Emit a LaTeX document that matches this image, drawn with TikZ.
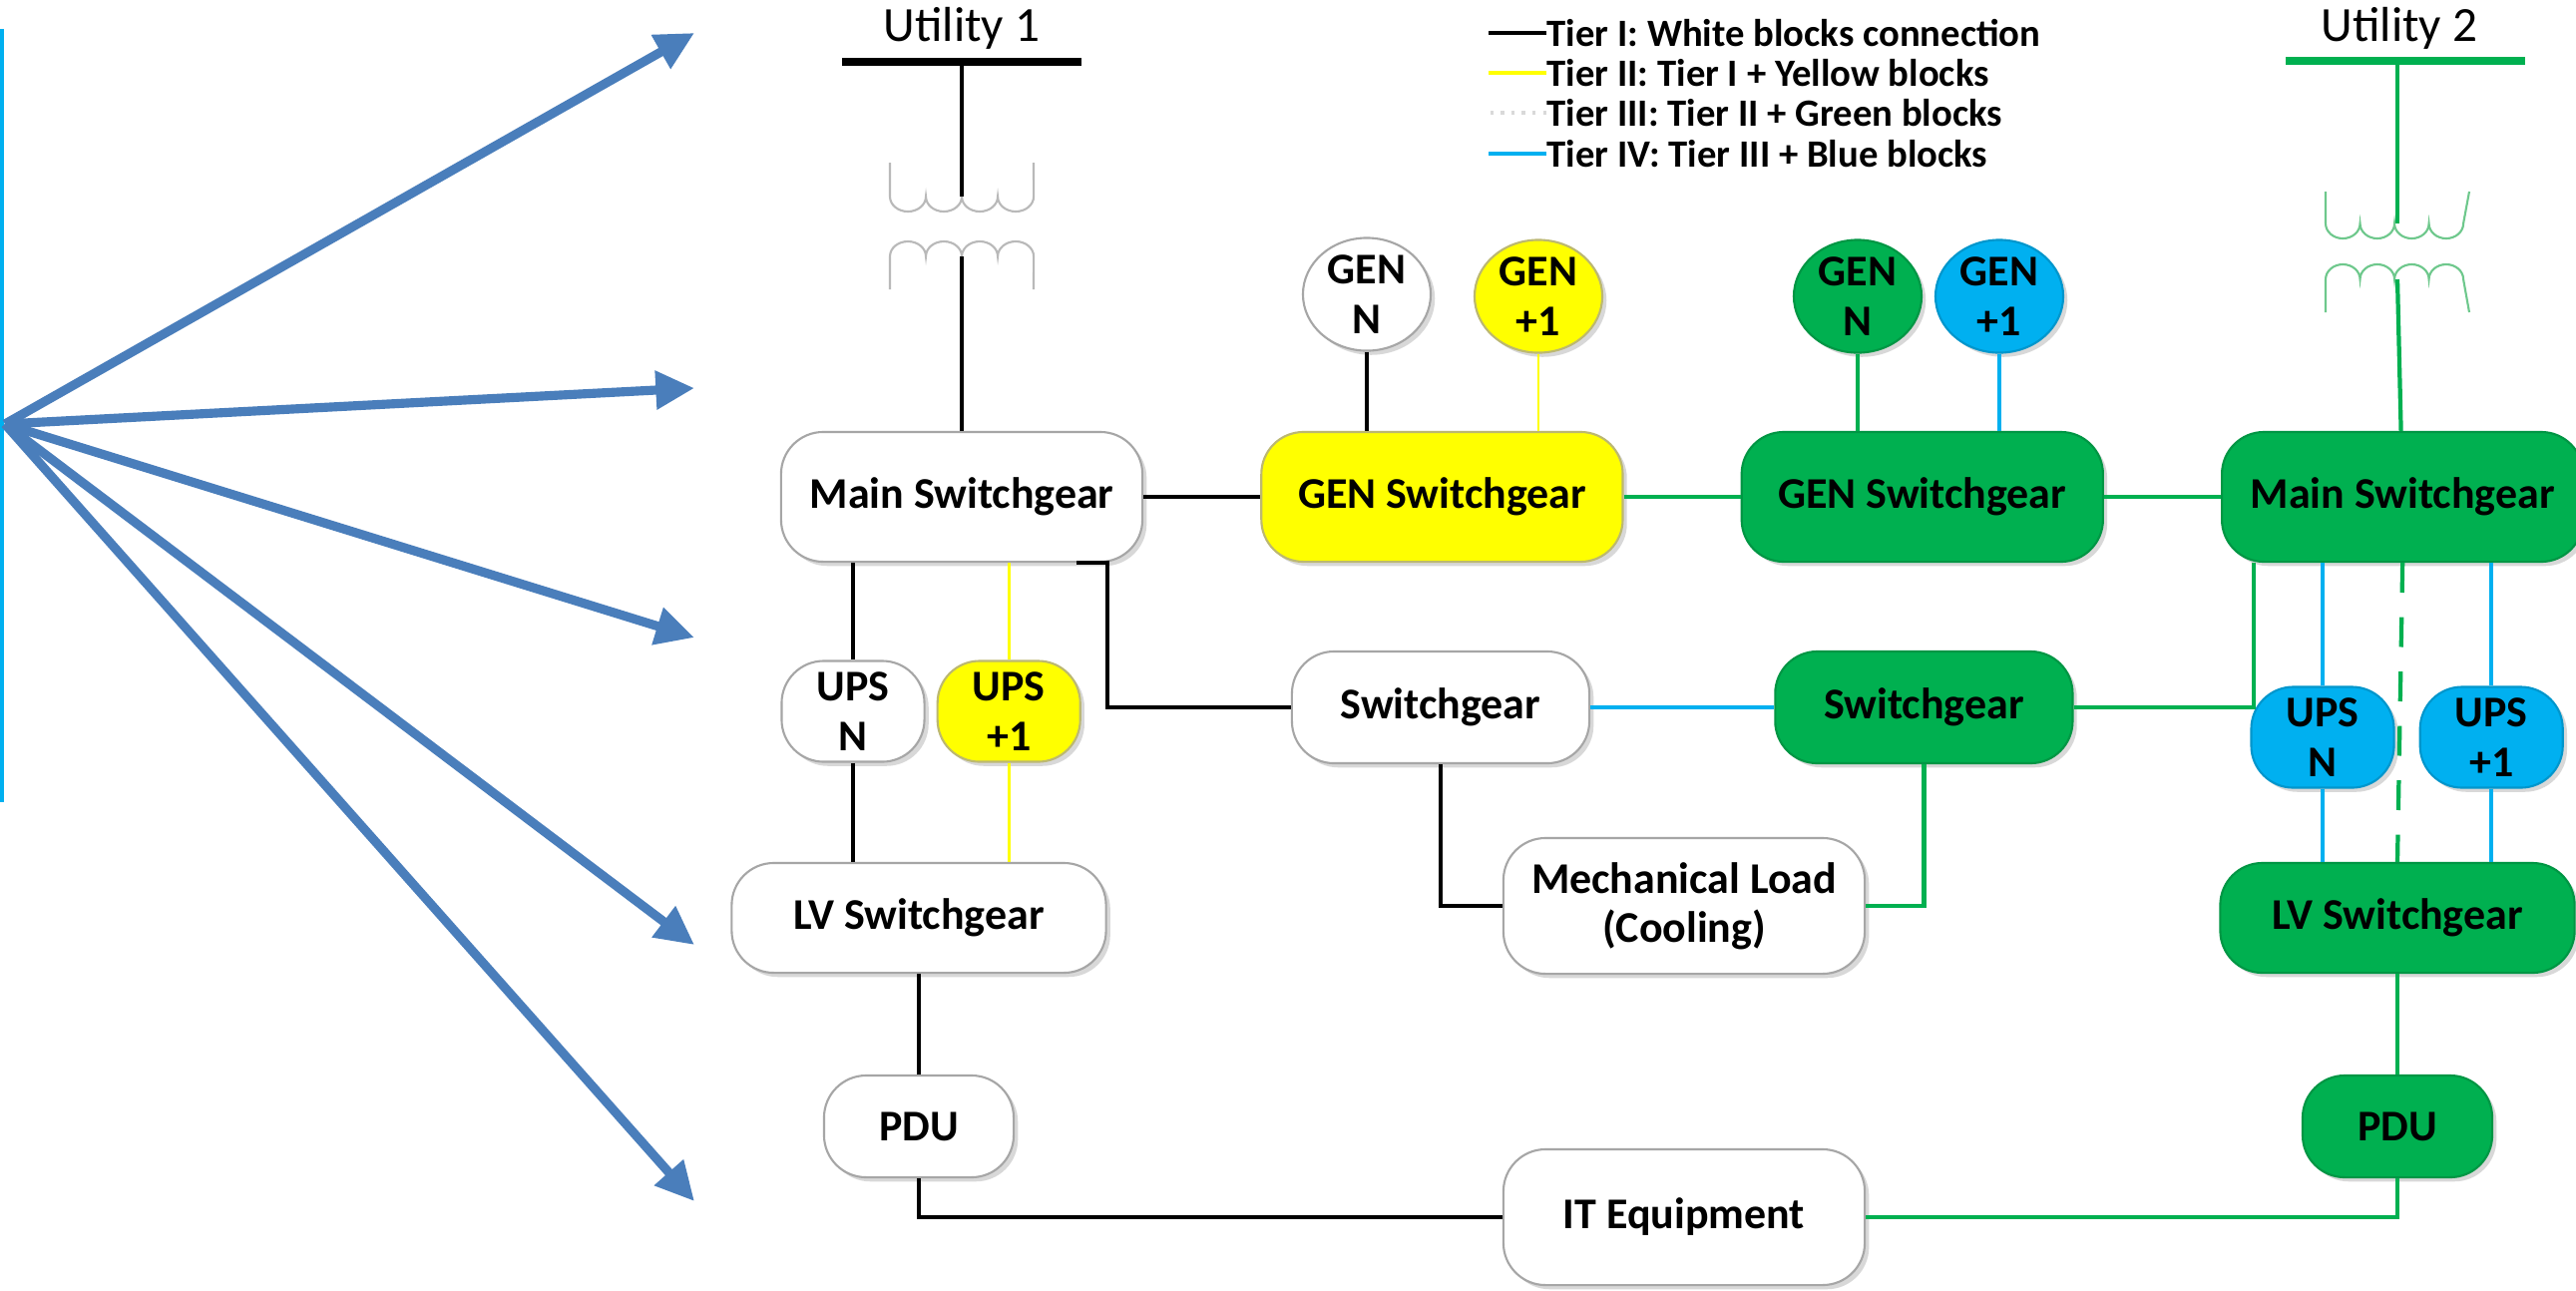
\documentclass[tikz,border=0pt]{standalone}
\usepackage{fontspec}
\setmainfont{Carlito}
\usetikzlibrary{shapes, arrows.meta, positioning, calc, shadows}

\definecolor{tgreen}{RGB}{0,176,80}
\definecolor{tyellow}{RGB}{255,255,0}
\definecolor{tblue}{RGB}{0,176,240}
\definecolor{arrblue}{RGB}{74,126,187}
\definecolor{boxgray}{RGB}{166,166,166}
\definecolor{coilgreen}{RGB}{110,200,140}

\begin{document}
\begin{tikzpicture}[x=0.01cm, y=-0.01cm,
        node distance=1.17cm and 1.17cm,
        blk/.style={draw=boxgray, fill=white, line width=0.6pt, rounded corners=12pt,
                    align=center, inner sep=1pt,
                    font=\bfseries\fontsize{12.5}{14}\selectfont,
                    drop shadow={opacity=0.3, shadow xshift=1.2pt, shadow yshift=-1.2pt}},
        yelblk/.style={blk, fill=tyellow, draw=gray!60!yellow},
        grnblk/.style={blk, fill=tgreen, draw=tgreen!85!black},
        blublk/.style={blk, fill=tblue, draw=tblue!85!black},
        gen/.style={ellipse, minimum width=1.28cm, minimum height=1.13cm, inner sep=0pt},
        wide/.style={minimum width=3.62cm, minimum height=1.30cm},
        ups/.style={minimum width=1.43cm, minimum height=1.01cm},
        swg/.style={minimum width=2.98cm, minimum height=1.12cm},
        load/.style={minimum width=3.62cm, minimum height=1.36cm},
        lv/.style={minimum width=3.75cm, minimum height=1.10cm},
        pdu/.style={minimum width=1.90cm, minimum height=1.02cm},
        wk/.style={line width=1.3pt},
        wy/.style={tyellow, line width=0.8pt},
        wg/.style={tgreen, line width=1.2pt},
        wb/.style={tblue, line width=1.2pt},
        fan/.style={arrblue, line width=2.6pt, -{Triangle[length=11pt, width=10.5pt]}},
        utl/.style={font=\fontsize{14}{16}\selectfont},
        leg/.style={anchor=west, inner sep=0pt, font=\bfseries\fontsize{11}{12}\selectfont}]
    \useasboundingbox (0,0) rectangle (2582,1293);
    \fill[white] (0,0) rectangle (2582,1293);

    % fan of arrows on the left
    \draw[tblue, line width=1.6pt] (1,29) -- (1,804);
    \coordinate (hub) at (5,425);
    \foreach \ty [count=\i] in {33,389,639,947,1204} {
        \coordinate (tip\i) at (696,\ty);
        \draw[fan] (hub) -- (tip\i);
    }

    % utilities and transformers
    \node[utl] (util1) at (964,28) {Utility 1};
    \node[utl] (util2) at (2405,28) {Utility 2};
    \coordinate (bus1) at (964,62);
    \coordinate (bus2) at (2403,61);
    \draw[line width=2.3pt] ([xshift=-1.2cm]bus1) -- ([xshift=1.2cm]bus1);
    \draw[tgreen, line width=2.3pt] ([xshift=-1.12cm]bus2) -- ([xshift=1.28cm]bus2);
    \foreach \cx/\ya/\yb/\yc/\yd/\r/\col in {964/163/197/257/290/0.18/gray!55,
            2403/192/224/280/313/0.1725/coilgreen} {
        \draw[\col, line width=0.6pt] (\cx-72,\ya) -- (\cx-72,\yb)
            \foreach \k in {1,...,4} {arc[start angle=180, end angle=360, x radius=\r cm, y radius=0.15cm]}
            -- (\cx+72,\ya);
        \draw[\col, line width=0.6pt] (\cx-72,\yd) -- (\cx-72,\yc)
            \foreach \k in {1,...,4} {arc[start angle=180, end angle=0, x radius=\r cm, y radius=0.15cm]}
            -- (\cx+72,\yd);
    }
    \coordinate (tap1a) at (964,197);
    \coordinate (tap1b) at (964,257);
    \coordinate (tap2a) at (2403,224);
    \coordinate (tap2b) at (2403,280);

    % legend
    \foreach \col/\sty/\ly/\txt [count=\n] in {black/solid/33/Tier I: White blocks connection,
            tyellow/solid/73/Tier II: Tier I + Yellow blocks,
            gray!30/dotted/113/Tier III: Tier II + Green blocks,
            tblue/solid/154/Tier IV: Tier III + Blue blocks} {
        \node[leg] (leg\n) at (1550,\ly) {\txt};
        \draw[\col, \sty, line width=1pt] (leg\n.west) -- ++(-58,0);
    }

    % switchgear row
    \node[blk, wide] (mainA) at (964,498) {Main Switchgear};
    \node[yelblk, wide, right=of mainA] (genswA) {GEN Switchgear};
    \node[grnblk, wide, right=of genswA] (genswB) {GEN Switchgear};
    \node[grnblk, wide, right=of genswB] (mainB) {Main Switchgear};

    % generators
    \node[blk, gen] (genA) at (1370,295) {GEN\\N};
    \node[yelblk, gen] (genAp) at (1542,297) {GEN\\+1};
    \node[grnblk, gen] (genB) at (1862,297) {GEN\\N};
    \node[blublk, gen] (genBp) at (2004,297) {GEN\\+1};

    % lower blocks
    \node[blk, ups] (upsA) at (855,713) {UPS\\N};
    \node[yelblk, ups, right=0.11cm of upsA] (upsAp) {UPS\\+1};
    \node[blk, swg] (swA) at (1444,709) {Switchgear};
    \node[grnblk, swg, right=1.84cm of swA] (swB) {Switchgear};
    \node[blk, load] (mech) at (1688,908) {Mechanical Load\\(Cooling)};
    \node[blk, lv] (lvA) at (921,920) {LV Switchgear};
    \node[blublk, ups] (upsB) at (2328,739) {UPS\\N};
    \node[blublk, ups, right=0.24cm of upsB] (upsBp) {UPS\\+1};
    \node[grnblk, lv, minimum width=3.55cm] (lvB) at (2403,920) {LV Switchgear};
    \node[blk, pdu] (pduA) at (921,1129) {PDU};
    \node[grnblk, pdu] (pduB) at (2403,1129) {PDU};
    \node[blk, load] (it) at (1688,1220) {IT Equipment};

    % connections
    \draw[wk] (bus1) -- (tap1a);
    \draw[wk] (tap1b) -- (mainA);
    \draw[wg] (bus2) -- (tap2a);
    \draw[wg] (tap2b) -- (mainB);
    \draw[wk] (mainA) -- (genswA);
    \draw[wg] (genswA) -- (genswB);
    \draw[wg] (genswB) -- (mainB);
    \draw[wk] (genA) -- (genA |- genswA.north);
    \draw[wy] (genAp) -- (genAp |- genswA.north);
    \draw[wg] (genB) -- (genB |- genswB.north);
    \draw[wb] (genBp) -- (genBp |- genswB.north);
    \draw[wk] (upsA |- mainA.south) -- (upsA);
    \draw[wk] (upsA) -- (upsA |- lvA.north);
    \draw[wy] (upsAp |- mainA.south) -- (upsAp.north);
    \draw[wy] (upsAp.south) -- (upsAp |- lvA.north);
    \draw[wk] ([xshift=1.15cm]mainA.south) -- ++(31,0) |- (swA);
    \draw[wb] (swA) -- (swB);
    \draw[wk] (swA) |- (mech);
    \draw[wg] (mech) -| (swB);
    \draw[wg] (swB) -| ([xshift=-1.49cm]mainB.south);
    \foreach \u in {upsB, upsBp} {
        \draw[wb] (\u |- mainB.south) -- (\u);
        \draw[wb] (\u) -- (\u |- lvB.north);
    }
    \draw[wg, dash pattern=on 8.5pt off 7pt] (mainB.south) -- (lvB.north);
    \draw[wk] (lvA) -- (pduA);
    \draw[wk] (pduA) |- (it);
    \draw[wg] (lvB) -- (pduB);
    \draw[wg] (it) -| (pduB);
\end{tikzpicture}
\end{document}
